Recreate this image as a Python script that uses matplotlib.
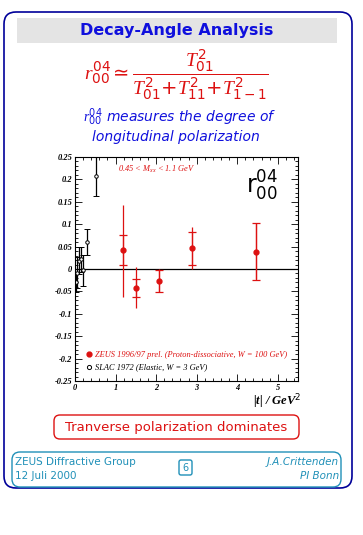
import matplotlib
matplotlib.use('Agg')
import matplotlib.pyplot as plt
from matplotlib.patches import FancyBboxPatch, Rectangle
from matplotlib.lines import Line2D
from matplotlib.ticker import MultipleLocator, FuncFormatter

plt.rcParams['mathtext.fontset'] = 'custom'
plt.rcParams['mathtext.rm'] = 'DejaVu Sans'
plt.rcParams['mathtext.sf'] = 'DejaVu Sans'
plt.rcParams['mathtext.it'] = 'Liberation Serif:italic'
plt.rcParams['mathtext.bf'] = 'DejaVu Sans:bold'

# ZEUS 1996/97 preliminary (proton-dissociative)
zeus_t = [1.18, 1.50, 2.08, 2.89, 4.47]
zeus_r = [0.042, -0.042, -0.027, 0.046, 0.039]
zeus_stat = [0.033, 0.020, 0.024, 0.036, 0.063]
zeus_tot_up = [0.101, 0.047, 0.027, 0.048, 0.063]
zeus_tot_dn = [0.104, 0.044, 0.024, 0.046, 0.062]

# SLAC 1972 (elastic)
slac_t = [0.02, 0.06, 0.10, 0.15, 0.19, 0.30, 0.53]
slac_r = [-0.030, -0.008, 0.018, 0.022, -0.003, 0.061, 0.208]
slac_err = [0.022, 0.035, 0.030, 0.028, 0.035, 0.029, 0.046]

red = '#dd1111'
blue = '#1010dd'
teal = '#2090b8'

fig = plt.figure(figsize=(3.63, 5.35), dpi=100)

# page decoration layer in pixel coordinates
bg = fig.add_axes([0, 0, 1, 1], zorder=0)
bg.set_xlim(0, 363)
bg.set_ylim(535, 0)
bg.axis('off')
bg.add_patch(FancyBboxPatch((4, 12), 348, 476, boxstyle='round,pad=0,rounding_size=12',
                            fc='white', ec='#000099', lw=1.2))
bg.add_patch(Rectangle((17, 18), 320, 25, fc='#e4e4e4', ec='none'))
bg.text(177, 31, 'Decay-Angle Analysis', color=blue, fontsize=11.5, fontweight='bold',
        ha='center', va='center')
bg.text(176, 75, r'$r^{04}_{00} \simeq \dfrac{T^2_{01}}{T^2_{01}{+}T^2_{11}{+}T^2_{1-1}}$',
        color=red, fontsize=14, ha='center', va='center')
bg.text(180, 117, r'$r^{04}_{00}$ measures the degree of', color=blue, fontsize=10,
        style='italic', ha='center', va='center')
bg.text(176, 137, 'longitudinal polarization', color=blue, fontsize=10,
        style='italic', ha='center', va='center')
bg.text(301, 401, r'|t| / GeV$^{\mathit{2}}$', fontsize=9, ha='right', va='center',
        family='Liberation Serif', style='italic', weight='bold')

bg.add_patch(FancyBboxPatch((54, 415), 245, 24, boxstyle='round,pad=0,rounding_size=6',
                            fc='white', ec=red, lw=1))
bg.text(176, 427, 'Tranverse polarization dominates', color=red, fontsize=9.5,
        ha='center', va='center')

bg.add_patch(FancyBboxPatch((12, 452), 329, 35, boxstyle='round,pad=0,rounding_size=8',
                            fc='white', ec=teal, lw=1))
bg.text(15, 462, 'ZEUS Diffractive Group', color=teal, fontsize=7.5, va='center')
bg.text(15, 476, '12 Juli 2000', color=teal, fontsize=7.5, va='center')
bg.text(339, 462, 'J.A.Crittenden', color=teal, fontsize=7.5, style='italic',
        ha='right', va='center')
bg.text(339, 476, 'PI Bonn', color=teal, fontsize=7.5, style='italic',
        ha='right', va='center')
bg.add_patch(FancyBboxPatch((179, 460), 13, 15, boxstyle='round,pad=0,rounding_size=2',
                            fc='white', ec=teal, lw=1))
bg.text(185.5, 468, '6', color=teal, fontsize=7, ha='center', va='center')

# data plot
ax = fig.add_axes([75 / 363, 1 - 381 / 535, 223 / 363, 224 / 535], zorder=1)
ax.set_xlim(0, 5.5)
ax.set_ylim(-0.25, 0.25)
ax.axhline(0, color='black', lw=0.9)

ax.errorbar(zeus_t, zeus_r, yerr=[zeus_tot_dn, zeus_tot_up], fmt='none',
            ecolor=red, elinewidth=0.9, capsize=0)
ax.errorbar(zeus_t, zeus_r, yerr=zeus_stat, fmt='o', color=red, ms=3.5,
            ecolor=red, elinewidth=0.9, capsize=3, capthick=0.9)
ax.errorbar(slac_t, slac_r, yerr=slac_err, fmt='o', mfc='white', mec='black',
            ms=2.5, mew=0.7, ecolor='black', elinewidth=0.9, capsize=2.5,
            capthick=0.9)

ax.xaxis.set_major_locator(MultipleLocator(1))
ax.xaxis.set_minor_locator(MultipleLocator(0.2))
ax.yaxis.set_major_locator(MultipleLocator(0.05))
ax.yaxis.set_minor_locator(MultipleLocator(0.01))
ax.tick_params(which='both', direction='in', top=True, right=True, width=0.6)
ax.tick_params(which='major', length=5, labelsize=6, pad=2)
ax.tick_params(which='minor', length=2.5)
ax.yaxis.set_major_formatter(FuncFormatter(lambda v, p: '0' if abs(v) < 1e-9 else ('%g' % v)))
for lab in ax.get_xticklabels() + ax.get_yticklabels():
    lab.set_family('Liberation Serif')
    lab.set_style('italic')
    lab.set_weight('bold')
for s in ax.spines.values():
    s.set_linewidth(0.8)

ax.text(0.195, 0.935, r'0.45 < M$_{\mathit{xx}}$ < 1.1 GeV', transform=ax.transAxes,
        color=red, fontsize=6, family='Liberation Serif', style='italic')
ax.text(0.84, 0.87, r'$\mathsf{r}^{04}_{00}$', transform=ax.transAxes,
        fontsize=17, ha='center', va='center', math_fontfamily='dejavusans')

handles = [Line2D([], [], ls='none', marker='o', color=red, ms=3.5),
           Line2D([], [], ls='none', marker='o', mfc='white', mec='black', ms=3, mew=0.7)]
labels = ['ZEUS 1996/97 prel. (Proton-dissociative, W = 100 GeV)',
          'SLAC 1972 (Elastic, W = 3 GeV)']
leg = ax.legend(handles, labels, loc='lower left', bbox_to_anchor=(0.02, 0.02),
                frameon=False,
                prop={'family': 'Liberation Serif', 'style': 'italic', 'size': 6},
                handletextpad=0.3, borderaxespad=0.2, labelspacing=0.6,
                handlelength=1.0)
leg.get_texts()[0].set_color(red)

fig.savefig('out.png', dpi=100)
